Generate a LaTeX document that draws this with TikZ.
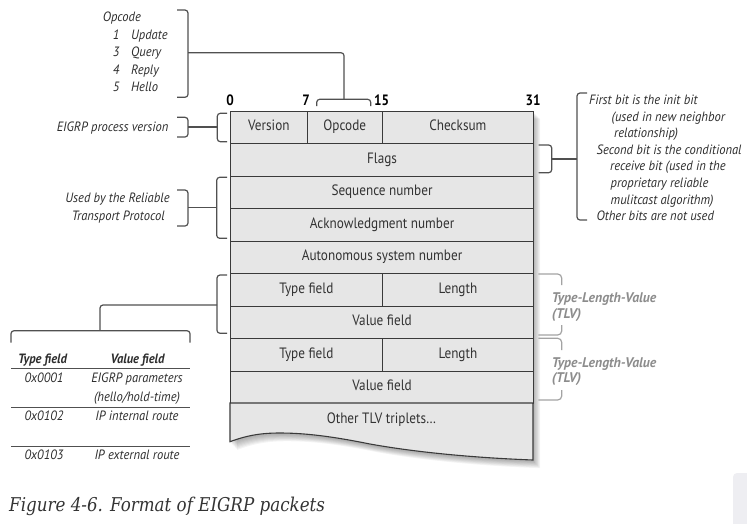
\documentclass[tikz,border=0pt]{standalone}
\usepackage{fontspec}
\setmainfont{PT Sans}
\newfontfamily\boxfont{PT Sans}[FakeStretch=0.88]
\newfontfamily\labfont{PT Sans}[FakeStretch=0.93]
\newfontfamily\tlvfont{PT Sans}[FakeStretch=0.98]
\newfontfamily\capfont{DejaVu Serif}[FakeStretch=0.88]
\definecolor{cellfill}{HTML}{E6E6E6}
\definecolor{cellline}{HTML}{3A3A3A}
\definecolor{celltext}{HTML}{333333}
\definecolor{labtext}{HTML}{2E2E2E}
\definecolor{tlvgray}{HTML}{8C8C8C}
\definecolor{brkcol}{HTML}{505050}
\definecolor{capcol}{HTML}{333333}
\definecolor{sidegray}{HTML}{EEEEF2}
\begin{document}
\begin{tikzpicture}[x=1pt,y=-1pt,
  cell/.style={draw=cellline, fill=cellfill, line width=1.1pt, inner sep=0pt, anchor=north west,
    minimum height=32.5pt, text height=10pt, text depth=3pt, text=celltext,
    font=\boxfont\fontsize{15}{17}\selectfont},
  celltxt/.style={inner sep=0pt, text height=10pt, text depth=3pt, text=celltext,
    font=\boxfont\fontsize{15}{17}\selectfont},
  bitnum/.style={font=\boxfont\bfseries\fontsize{15}{17}\selectfont, text=black, inner sep=0pt, anchor=base},
  lab/.style={font=\labfont\itshape\fontsize{13.5}{16}\selectfont, text=labtext, inner sep=0pt},
  tabhead/.style={font=\labfont\bfseries\itshape\fontsize{13.5}{16}\selectfont, text=labtext, inner sep=0pt, anchor=base},
  tlvlab/.style={font=\tlvfont\bfseries\itshape\fontsize{14}{16}\selectfont, text=tlvgray, inner sep=0pt, anchor=base west},
  brk/.style={draw=brkcol, line width=1.2pt, rounded corners=3pt},
  tlvbrk/.style={draw=tlvgray!80, line width=1.2pt, rounded corners=4pt},
  tabline/.style={draw=brkcol, line width=1pt},
  capstyle/.style={font=\capfont\itshape\fontsize{19}{22}\selectfont, text=capcol, inner sep=0pt, anchor=base west}
]
\useasboundingbox (0,0) rectangle (747,523);
% side panel
\fill[sidegray, rounded corners=4pt] (733,473) rectangle (755,530);
% shadow
\foreach \i in {1,...,8} {
  \fill[black, opacity=0.045, shift={(\i*0.9,\i*0.9+1)}]
    (230,110.5) -- (533,110.5) -- (533,460)
    .. controls (480,458) and (420,453) .. (370,444)
    .. controls (340,438) and (310,433) .. (280,433)
    .. controls (262,433) and (248,435) .. (230,441.7) -- cycle;
}
% cells
\node[cell, minimum width=76.7pt] (ver) at (230,110.5) {Version};
\node[cell, minimum width=75pt] (opc) at (306.7,110.5) {Opcode};
\node[cell, minimum width=151.3pt] (chk) at (381.7,110.5) {Checksum};
\node[cell, minimum width=303pt] (flags) at (230,143) {Flags};
\node[cell, minimum width=303pt] (seq) at (230,175.5) {Sequence number};
\node[cell, minimum width=303pt] (ack) at (230,208) {Acknowledgment number};
\node[cell, minimum width=303pt] (asn) at (230,240.5) {Autonomous system number};
\node[cell, minimum width=151.7pt] (type1) at (230,273) {Type field};
\node[cell, minimum width=151.3pt] (len1) at (381.7,273) {Length};
\node[cell, minimum width=303pt] (val1) at (230,305.5) {Value field};
\node[cell, minimum width=151.7pt] (type2) at (230,338) {Type field};
\node[cell, minimum width=151.3pt] (len2) at (381.7,338) {Length};
\node[cell, minimum width=303pt] (val2) at (230,370.5) {Value field};
\draw[draw=cellline, fill=cellfill, line width=1.1pt]
    (230,403) -- (533,403) -- (533,460)
    .. controls (480,458) and (420,453) .. (370,444)
    .. controls (340,438) and (310,433) .. (280,433)
    .. controls (262,433) and (248,435) .. (230,441.7) -- cycle;
\node[celltxt] (other) at (381.5,419.5) {Other TLV triplets…};
% bit numbers
\node[bitnum] (b0) at (230,105) {0};
\node[bitnum] (b7) at (306.2,105) {7};
\node[bitnum] (b15) at (381.7,105) {15};
\node[bitnum] (b31) at (533,105) {31};
% opcode list
\node[lab, anchor=base west] (opt) at (102.7,21.7) {Opcode};
\node[lab, anchor=base east] (n1) at (119.5,39.3) {1};
\node[lab, anchor=base west] (w1) at (131,39.3) {Update};
\node[lab, anchor=base east] (n3) at (119.5,56.8) {3};
\node[lab, anchor=base west] (w3) at (131,56.8) {Query};
\node[lab, anchor=base east] (n4) at (119.5,74.3) {4};
\node[lab, anchor=base west] (w4) at (131,74.3) {Reply};
\node[lab, anchor=base east] (n5) at (119.5,91.8) {5};
\node[lab, anchor=base west] (w5) at (131,91.8) {Hello};
\draw[brk] (177,10) -- (188,10) -- (188,97.3) -- (177,97.3);
\coordinate (oplistmid) at (188,52.7);
\draw[brk] (316.7,106) -- (316.7,99.3) -- (370.7,99.3) -- (370.7,106);
\coordinate (opbrtop) at (344,99.3);
\draw[brk] (opbrtop) -- (344,52.7) -- (oplistmid);
% EIGRP process version
\node[lab, anchor=base east] (epv) at (168.5,131.5) {EIGRP process version};
\draw[brk] (177,117.3) -- (188,117.3) -- (188,137) -- (177,137);
\draw[brk] (227,113.3) -- (217.3,113.3) -- (217.3,141.7) -- (227,141.7);
\coordinate (epvr) at (188,127);
\coordinate (epvl) at (217.3,127);
\draw[brk] (epvr) -- (epvl);
% reliable transport
\node[lab, anchor=base] (rtp1) at (117.5,202.7) {Used by the Reliable};
\node[lab, anchor=base] (rtp2) at (118.3,220) {Transport Protocol};
\draw[brk] (177,190) -- (188,190) -- (188,226) -- (177,226);
\draw[brk] (227,177.3) -- (216.7,177.3) -- (216.7,238.3) -- (227,238.3);
\coordinate (rtpr) at (188,207.7);
\coordinate (rtpl) at (216.7,207.7);
\draw[brk] (rtpr) -- (rtpl);
% TLV to table
\draw[brk] (227,275) -- (217,275) -- (217,333.3) -- (227,333.3);
\coordinate (tlvl) at (217,305);
\coordinate (tabtop) at (100,330.7);
\draw[brk] (tlvl) -- (100,305) -- (tabtop);
\draw[brk] (11,342.7) -- (11,330.7) -- (190,330.7) -- (190,342.7);
% table
\node[tabhead] (th1) at (42.5,363.3) {Type field};
\node[tabhead] (th2) at (137.5,363.3) {Value field};
\draw[tabline] (11,368.3) -- (190,368.3);
\node[lab, anchor=base] (t1a) at (44,382.3) {0x0001};
\node[lab, anchor=base] (t1b) at (137,382.3) {EIGRP parameters};
\node[lab, anchor=base] (t1c) at (137,401.7) {(hello/hold-time)};
\draw[tabline] (11,407.3) -- (190,407.3);
\node[lab, anchor=base] (t2a) at (44,420.7) {0x0102};
\node[lab, anchor=base] (t2b) at (137,420.7) {IP internal route};
\draw[tabline] (11,446.7) -- (190,446.7);
\node[lab, anchor=base] (t3a) at (44,459.3) {0x0103};
\node[lab, anchor=base] (t3b) at (137,459.3) {IP external route};
% flags explanation
\draw[brk] (538.5,145) -- (551.7,145) -- (551.7,172.7) -- (538.5,172.7);
\draw[brk] (587,93) -- (577,93) -- (577,220) -- (587,220);
\coordinate (flr) at (551.7,159);
\coordinate (fll) at (577,159);
\draw[brk] (flr) -- (fll);
\node[lab, anchor=base west] (f1) at (589,104.5) {First bit is the init bit};
\node[lab, anchor=base west] (f2) at (611.5,121.1) {(used in new neighbor};
\node[lab, anchor=base west] (f3) at (614,137.7) {relationship)};
\node[lab, anchor=base west] (f4) at (596.5,154.3) {Second bit is the conditional};
\node[lab, anchor=base west] (f5) at (610,170.9) {receive bit (used in the};
\node[lab, anchor=base west] (f6) at (610.5,187.5) {proprietary reliable};
\node[lab, anchor=base west] (f7) at (610.5,204.1) {mulitcast algorithm)};
\node[lab, anchor=base west] (f8) at (596.5,220.7) {Other bits are not used};
% TLV labels right
\draw[tlvbrk] (538.3,274) -- (561.7,274) -- (561.7,285);
\draw[tlvbrk] (561.7,325) -- (561.7,335) -- (538.3,335);
\draw[tlvbrk] (538.3,338.3) -- (561.7,338.3) -- (561.7,350);
\draw[tlvbrk] (561.7,390) -- (561.7,400) -- (538.3,400);
\node[tlvlab] (tl1) at (551.7,302.7) {Type-Length-Value};
\node[tlvlab] (tl1b) at (551.7,318.3) {(TLV)};
\node[tlvlab] (tl2) at (551.7,367.3) {Type-Length-Value};
\node[tlvlab] (tl2b) at (551.7,382.7) {(TLV)};
% caption
\node[capstyle] (cap) at (9,511.5) {Figure 4-6. Format of EIGRP packets};
\end{tikzpicture}
\end{document}
